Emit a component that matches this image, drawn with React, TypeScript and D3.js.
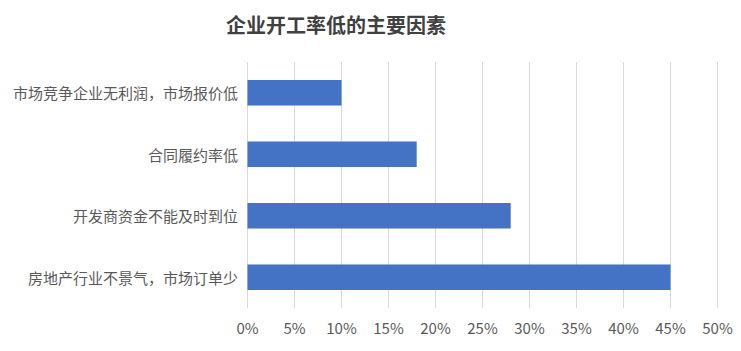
import React from "react";
import * as d3 from "d3";

const title = "企业开工率低的主要因素";
const categories = [
  "市场竞争企业无利润，市场报价低",
  "合同履约率低",
  "开发商资金不能及时到位",
  "房地产行业不景气，市场订单少",
];
const values = [10, 18, 28, 45];
const tickValues = [0, 5, 10, 15, 20, 25, 30, 35, 40, 45, 50];

const W = 741;
const H = 351;
const margin = { left: 247.5, right: 23.5, top: 62, bottom: 43 };
const FONT = "'Noto Sans CJK SC', 'Noto Sans', sans-serif";

export default function App() {
  const x = d3
    .scaleLinear()
    .domain([0, 50])
    .range([margin.left, W - margin.right]);
  const y = d3
    .scaleBand<string>()
    .domain(categories)
    .range([margin.top, H - margin.bottom])
    .paddingInner(0.585)
    .paddingOuter(0.2925);

  return (
    <svg
      width={W}
      height={H}
      style={{ position: "absolute", left: 0, top: 0, background: "#fff" }}
      fontFamily={FONT}
    >
      <text
        x={336}
        y={24}
        textAnchor="middle"
        dominantBaseline="central"
        fontSize={20}
        fontWeight="bold"
        fill="#404040"
      >
        {title}
      </text>
      {tickValues.map((t) => (
        <g key={t}>
          <line
            x1={x(t)}
            x2={x(t)}
            y1={margin.top}
            y2={H - margin.bottom}
            stroke="#d9d9d9"
            strokeWidth={1}
          />
          <text
            x={x(t)}
            y={327}
            textAnchor="middle"
            dominantBaseline="central"
            fontSize={15}
            fill="#595959"
          >
            {t}%
          </text>
        </g>
      ))}
      {categories.map((c, i) => (
        <g key={c}>
          <rect
            x={x(0)}
            y={y(c)}
            width={x(values[i]) - x(0)}
            height={y.bandwidth()}
            fill="#4472C4"
          />
          <text
            x={238}
            y={(y(c) ?? 0) + y.bandwidth() / 2}
            textAnchor="end"
            dominantBaseline="central"
            fontSize={15}
            fill="#595959"
          >
            {c}
          </text>
        </g>
      ))}
    </svg>
  );
}
